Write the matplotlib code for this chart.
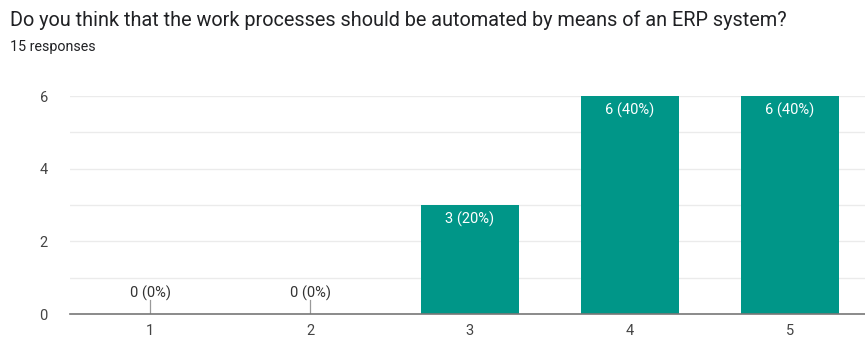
import matplotlib.pyplot as plt
import numpy as np

plt.rcParams['font.family'] = ['Roboto', 'DejaVu Sans']

categories = ['1', '2', '3', '4', '5']
counts = [0, 0, 3, 6, 6]
total = 15
title = 'Do you think that the work processes should be automated by means of an ERP system?'
subtitle = '15 responses'

teal = '#009688'

fig = plt.figure(figsize=(8.65, 3.37), dpi=100)
ax = fig.add_axes([70 / 865, 1 - 314 / 337, 800 / 865, 218 / 337])

x = np.arange(len(categories))
ax.bar(x, counts, width=0.61, color=teal, zorder=3)

ax.set_xlim(-0.5, 4.5)
ax.set_ylim(0, 6)
ax.set_yticks([0, 2, 4, 6])
ax.set_yticks([1, 3, 5], minor=True)
ax.set_xticks(x)
ax.set_xticklabels(categories)
ax.grid(axis='y', which='both', color='#ebebeb', linewidth=1, zorder=0)
for s in ['top', 'right', 'left']:
    ax.spines[s].set_visible(False)
ax.spines['bottom'].set_color('#777777')
ax.spines['bottom'].set_linewidth(1.2)
ax.spines['bottom'].set_zorder(4)
ax.tick_params(axis='both', length=0, labelsize=10.5, colors='#444444')
ax.tick_params(axis='y', pad=16)
ax.tick_params(axis='x', pad=7)
ax.tick_params(axis='y', which='minor', length=0)

for xi, c in zip(x, counts):
    label = f'{c} ({c / total * 100:.0f}%)'
    if c == 0:
        ax.plot([xi, xi], [0, 0.38], color='#999999', linewidth=0.9, zorder=4)
        ax.text(xi, 0.58, label, ha='center', va='center', fontsize=10.5, color='#333333')
    else:
        ax.annotate(label, (xi, c), xytext=(0, -10), textcoords='offset points',
                    ha='center', va='center', fontsize=10.5, color='white', zorder=5)

fig.text(10 / 865, 1 - 20 / 337, title, ha='left', va='center', fontsize=14.3, color='#202124')
fig.text(10 / 865, 1 - 47 / 337, subtitle, ha='left', va='center', fontsize=10.3, color='#202124')

fig.savefig('out.png', dpi=100)
